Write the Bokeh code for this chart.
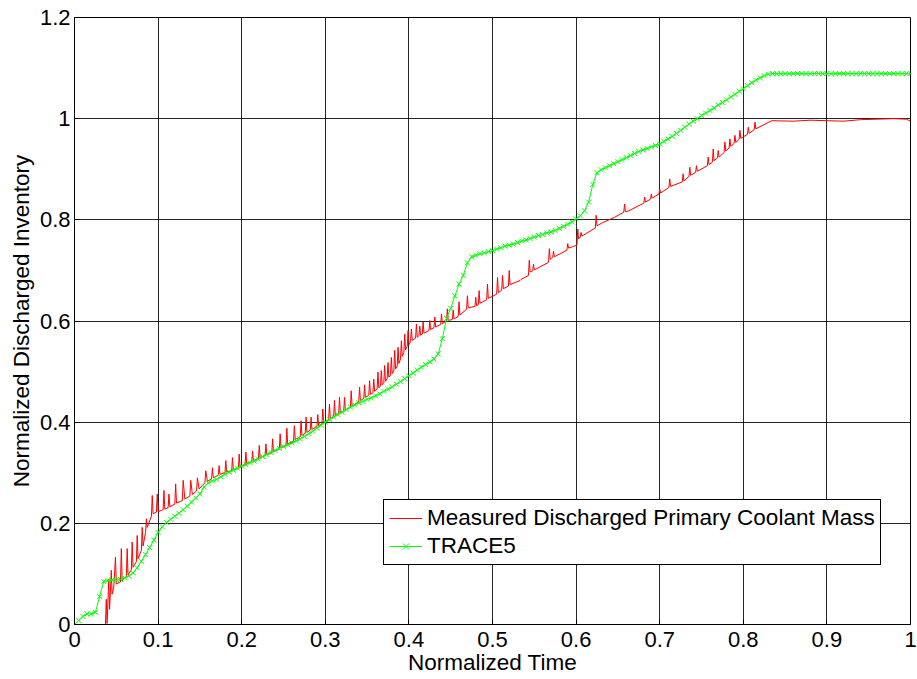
from bokeh.plotting import figure
from bokeh.models import Range1d, Legend, LegendItem, FixedTicker, CustomJSTickFormatter
from bokeh.embed import file_html
from bokeh.resources import INLINE

# ---------------- data ----------------
x_ticks = [0, 0.1, 0.2, 0.3, 0.4, 0.5, 0.6, 0.7, 0.8, 0.9, 1]
y_ticks = [0, 0.2, 0.4, 0.6, 0.8, 1, 1.2]

series_names = ["Measured Discharged Primary Coolant Mass", "TRACE5"]

red_t = [
    0.035, 0.037, 0.038, 0.039, 0.041, 0.042, 0.044, 0.045, 0.047, 0.049, 0.050,
    0.055, 0.056, 0.057, 0.062, 0.063, 0.064, 0.068, 0.069, 0.070, 0.074, 0.075, 0.076,
    0.080, 0.081, 0.082, 0.085, 0.086, 0.087, 0.092, 0.093, 0.094, 0.098, 0.099, 0.100,
    0.106, 0.107, 0.108, 0.112, 0.113, 0.114, 0.120, 0.121, 0.122, 0.129, 0.130, 0.132,
    0.138, 0.139, 0.141, 0.146, 0.147, 0.149, 0.156, 0.157, 0.159, 0.164, 0.165, 0.166,
    0.172, 0.173, 0.174, 0.180, 0.181, 0.182, 0.188, 0.189, 0.190, 0.196, 0.197, 0.198,
    0.204, 0.205, 0.206, 0.212, 0.213, 0.214, 0.220, 0.221, 0.222, 0.228, 0.229, 0.230,
    0.236, 0.237, 0.238, 0.245, 0.246, 0.247, 0.253, 0.254, 0.255, 0.262, 0.263, 0.264,
    0.270, 0.271, 0.272, 0.276, 0.277, 0.278, 0.282, 0.283, 0.284, 0.290, 0.291, 0.292,
    0.296, 0.297, 0.298, 0.304, 0.305, 0.306, 0.310, 0.311, 0.312, 0.316, 0.317, 0.318,
    0.322, 0.323, 0.324, 0.330, 0.331, 0.332, 0.340, 0.341, 0.342, 0.346, 0.347, 0.348,
    0.352, 0.353, 0.354, 0.357, 0.358, 0.359, 0.362, 0.363, 0.364, 0.366, 0.367, 0.368,
    0.370, 0.371, 0.372, 0.374, 0.375, 0.376, 0.378, 0.379, 0.380, 0.382, 0.383, 0.384,
    0.386, 0.387, 0.388, 0.390, 0.391, 0.392, 0.394, 0.395, 0.396, 0.398, 0.399, 0.400,
    0.402, 0.403, 0.404, 0.408, 0.409, 0.410, 0.412, 0.413, 0.414, 0.416, 0.417, 0.418,
    0.424, 0.425, 0.426, 0.430, 0.431, 0.432, 0.438, 0.439, 0.440, 0.445, 0.446, 0.447,
    0.452, 0.453, 0.454, 0.459, 0.460, 0.461, 0.469, 0.470, 0.471, 0.479, 0.480, 0.481,
    0.483, 0.484, 0.485, 0.493, 0.494, 0.495, 0.505, 0.506, 0.507, 0.511, 0.512, 0.513,
    0.519, 0.520, 0.521, 0.533, 0.534, 0.543, 0.544, 0.545, 0.548, 0.549, 0.550,
    0.567, 0.568, 0.569, 0.572, 0.573, 0.574, 0.589, 0.590, 0.591, 0.596, 0.601, 0.602,
    0.603, 0.605, 0.606, 0.607, 0.623, 0.624, 0.625, 0.630, 0.646, 0.657, 0.658, 0.659,
    0.662, 0.681, 0.682, 0.683, 0.689, 0.690, 0.691, 0.699, 0.700, 0.701, 0.711, 0.712,
    0.713, 0.727, 0.728, 0.729, 0.735, 0.736, 0.737, 0.743, 0.744, 0.745, 0.757, 0.758,
    0.759, 0.763, 0.764, 0.765, 0.769, 0.770, 0.771, 0.777, 0.778, 0.779, 0.783, 0.784,
    0.785, 0.789, 0.790, 0.791, 0.795, 0.796, 0.797, 0.805, 0.806, 0.807, 0.813, 0.814,
    0.815, 0.834, 0.860, 0.880, 0.900, 0.920, 0.940, 0.960, 0.980, 0.995, 1.000,
]
red_v = [
    0.000, 0.000, 0.050, 0.002, 0.090, 0.030, 0.107, 0.060, 0.074, 0.133, 0.080,
    0.084, 0.150, 0.087, 0.094, 0.150, 0.098, 0.108, 0.163, 0.113, 0.124, 0.176, 0.130,
    0.147, 0.192, 0.155, 0.182, 0.209, 0.192, 0.214, 0.255, 0.219, 0.222, 0.258, 0.223,
    0.227, 0.265, 0.228, 0.231, 0.258, 0.233, 0.238, 0.278, 0.240, 0.245, 0.285, 0.248,
    0.254, 0.285, 0.257, 0.264, 0.290, 0.268, 0.280, 0.304, 0.283, 0.288, 0.310, 0.290,
    0.295, 0.314, 0.297, 0.300, 0.324, 0.302, 0.304, 0.330, 0.306, 0.309, 0.337, 0.311,
    0.316, 0.341, 0.318, 0.322, 0.343, 0.324, 0.328, 0.354, 0.330, 0.334, 0.357, 0.336,
    0.339, 0.367, 0.342, 0.347, 0.377, 0.349, 0.354, 0.388, 0.357, 0.363, 0.393, 0.366,
    0.371, 0.403, 0.374, 0.378, 0.410, 0.380, 0.384, 0.410, 0.386, 0.391, 0.415, 0.393,
    0.397, 0.426, 0.399, 0.405, 0.436, 0.407, 0.411, 0.443, 0.413, 0.417, 0.449, 0.419,
    0.422, 0.449, 0.424, 0.429, 0.462, 0.432, 0.440, 0.469, 0.443, 0.447, 0.474, 0.449,
    0.453, 0.482, 0.455, 0.458, 0.485, 0.461, 0.466, 0.499, 0.468, 0.471, 0.502, 0.474,
    0.478, 0.512, 0.481, 0.486, 0.518, 0.489, 0.493, 0.528, 0.496, 0.501, 0.542, 0.505,
    0.511, 0.548, 0.516, 0.525, 0.561, 0.530, 0.538, 0.574, 0.543, 0.550, 0.581, 0.553,
    0.560, 0.584, 0.562, 0.566, 0.594, 0.568, 0.571, 0.590, 0.572, 0.574, 0.598, 0.576,
    0.581, 0.601, 0.583, 0.587, 0.608, 0.588, 0.593, 0.614, 0.595, 0.600, 0.624, 0.601,
    0.603, 0.622, 0.604, 0.609, 0.638, 0.612, 0.623, 0.650, 0.626, 0.629, 0.647, 0.630,
    0.632, 0.660, 0.635, 0.642, 0.673, 0.645, 0.653, 0.686, 0.656, 0.661, 0.690, 0.664,
    0.669, 0.700, 0.672, 0.680, 0.682, 0.690, 0.720, 0.697, 0.699, 0.712, 0.701,
    0.716, 0.743, 0.722, 0.726, 0.738, 0.727, 0.740, 0.753, 0.744, 0.747, 0.750, 0.782,
    0.762, 0.766, 0.775, 0.768, 0.784, 0.809, 0.788, 0.793, 0.805, 0.815, 0.831, 0.816,
    0.817, 0.833, 0.845, 0.835, 0.841, 0.851, 0.843, 0.851, 0.861, 0.853, 0.864, 0.881,
    0.866, 0.875, 0.891, 0.877, 0.886, 0.904, 0.888, 0.894, 0.907, 0.896, 0.907, 0.924,
    0.909, 0.914, 0.940, 0.917, 0.922, 0.937, 0.924, 0.933, 0.954, 0.936, 0.942, 0.960,
    0.945, 0.951, 0.967, 0.953, 0.959, 0.977, 0.961, 0.969, 0.983, 0.971, 0.978, 0.993,
    0.980, 0.996, 0.995, 0.997, 0.996, 0.995, 0.998, 0.999, 1.000, 0.999, 0.995,
]

green_t = [
    0.000, 0.005, 0.010, 0.015, 0.020, 0.025, 0.030, 0.035, 0.040, 0.045,
    0.050, 0.055, 0.060, 0.065, 0.070, 0.075, 0.080, 0.085, 0.090, 0.095,
    0.100, 0.105, 0.110, 0.115, 0.120, 0.125, 0.130, 0.135, 0.140, 0.145,
    0.150, 0.155, 0.160, 0.165, 0.170, 0.175, 0.180, 0.185, 0.190, 0.195,
    0.200, 0.205, 0.210, 0.215, 0.220, 0.225, 0.230, 0.235, 0.240, 0.245,
    0.250, 0.255, 0.260, 0.265, 0.270, 0.275, 0.280, 0.285, 0.290, 0.295,
    0.300, 0.305, 0.310, 0.315, 0.320, 0.325, 0.330, 0.335, 0.340, 0.345,
    0.350, 0.355, 0.360, 0.365, 0.370, 0.375, 0.380, 0.385, 0.390, 0.395,
    0.400, 0.405, 0.410, 0.415, 0.420, 0.425, 0.430, 0.435, 0.440, 0.445,
    0.450, 0.455, 0.460, 0.465, 0.470, 0.475, 0.480, 0.485, 0.490, 0.495,
    0.500, 0.505, 0.510, 0.515, 0.520, 0.525, 0.530, 0.535, 0.540, 0.545,
    0.550, 0.555, 0.560, 0.565, 0.570, 0.575, 0.580, 0.585, 0.590, 0.595,
    0.600, 0.605, 0.610, 0.615, 0.620, 0.625, 0.630, 0.635, 0.640, 0.645,
    0.650, 0.655, 0.660, 0.665, 0.670, 0.675, 0.680, 0.685, 0.690, 0.695,
    0.700, 0.705, 0.710, 0.715, 0.720, 0.725, 0.730, 0.735, 0.740, 0.745,
    0.750, 0.755, 0.760, 0.765, 0.770, 0.775, 0.780, 0.785, 0.790, 0.795,
    0.800, 0.805, 0.810, 0.815, 0.820, 0.825, 0.830, 0.835, 0.840, 0.845,
    0.850, 0.855, 0.860, 0.865, 0.870, 0.875, 0.880, 0.885, 0.890, 0.895,
    0.900, 0.905, 0.910, 0.915, 0.920, 0.925, 0.930, 0.935, 0.940, 0.945,
    0.950, 0.955, 0.960, 0.965, 0.970, 0.975, 0.980, 0.985, 0.990, 0.995,
    1.000,
]
green_v = [
    0.000, 0.008, 0.016, 0.021, 0.021, 0.024, 0.055, 0.085, 0.087, 0.088,
    0.088, 0.089, 0.092, 0.096, 0.102, 0.112, 0.125, 0.138, 0.152, 0.167,
    0.182, 0.193, 0.202, 0.208, 0.214, 0.220, 0.227, 0.234, 0.242, 0.250,
    0.258, 0.272, 0.280, 0.284, 0.287, 0.292, 0.297, 0.301, 0.305, 0.309,
    0.313, 0.316, 0.320, 0.323, 0.327, 0.332, 0.336, 0.340, 0.344, 0.348,
    0.352, 0.355, 0.359, 0.363, 0.367, 0.372, 0.377, 0.382, 0.388, 0.394,
    0.400, 0.405, 0.410, 0.415, 0.420, 0.425, 0.430, 0.434, 0.438, 0.441,
    0.445, 0.448, 0.452, 0.456, 0.461, 0.465, 0.470, 0.475, 0.480, 0.486,
    0.492, 0.497, 0.503, 0.509, 0.514, 0.519, 0.525, 0.535, 0.565, 0.605,
    0.625, 0.650, 0.673, 0.690, 0.715, 0.727, 0.730, 0.733, 0.735, 0.737,
    0.739, 0.742, 0.745, 0.748, 0.750, 0.752, 0.755, 0.758, 0.760, 0.763,
    0.766, 0.769, 0.771, 0.774, 0.776, 0.779, 0.783, 0.787, 0.791, 0.796,
    0.802, 0.808, 0.818, 0.835, 0.870, 0.893, 0.899, 0.903, 0.907, 0.911,
    0.915, 0.919, 0.923, 0.927, 0.931, 0.935, 0.938, 0.941, 0.944, 0.947,
    0.950, 0.955, 0.960, 0.965, 0.971, 0.977, 0.983, 0.989, 0.995, 1.000,
    1.006, 1.011, 1.016, 1.021, 1.027, 1.032, 1.037, 1.043, 1.048, 1.054,
    1.059, 1.065, 1.071, 1.076, 1.081, 1.085, 1.088, 1.089, 1.089, 1.089,
    1.089, 1.089, 1.089, 1.089, 1.089, 1.089, 1.089, 1.089, 1.089, 1.089,
    1.089, 1.089, 1.089, 1.089, 1.089, 1.089, 1.089, 1.089, 1.089, 1.089,
    1.089, 1.089, 1.089, 1.089, 1.089, 1.089, 1.089, 1.089, 1.089, 1.089,
    1.089,
]

x_label = "Normalized Time"
y_label = "Normalized Discharged Inventory"

# ---------------- figure ----------------
FONT = "Liberation Sans"

p = figure(width=917, height=679, output_backend="svg", toolbar_location=None,
           x_range=Range1d(0, 1), y_range=Range1d(0, 1.2),
           min_border_left=74, min_border_right=7, min_border_top=17,
           min_border_bottom=55)
p.background_fill_color = "white"
p.border_fill_color = "white"
p.outline_line_color = "black"
p.outline_line_width = 1
p.outline_line_alpha = 1

for ax, ticks, lab in ((p.xaxis[0], x_ticks, x_label), (p.yaxis[0], y_ticks, y_label)):
    ax.ticker = FixedTicker(ticks=ticks)
    ax.formatter = CustomJSTickFormatter(code="return String(tick);")
    ax.axis_label = lab
    ax.axis_label_text_font = FONT
    ax.axis_label_text_font_style = "normal"
    ax.axis_label_text_font_size = "22.5px"
    ax.axis_label_text_color = "black"
    ax.major_label_text_font = FONT
    ax.major_label_text_font_size = "22px"
    ax.major_label_text_color = "black"
    ax.major_tick_in = 5
    ax.major_tick_out = 0
    ax.minor_tick_in = 0
    ax.minor_tick_out = 0
    ax.axis_line_color = "black"
    ax.major_tick_line_color = "black"

p.xaxis.major_label_standoff = 7
p.xaxis.axis_label_standoff = 0
p.yaxis.major_label_standoff = 4
p.yaxis.axis_label_standoff = 3

for g in (p.xgrid[0], p.ygrid[0]):
    g.grid_line_color = "black"
    g.grid_line_alpha = 0.85
    g.grid_line_width = 1

r_red = p.line(red_t, red_v, line_color="#ff0000", line_width=1)
r_green_line = p.line(green_t, green_v, line_color="#00ff00", line_width=1)
r_green_pts = p.scatter(green_t, green_v, marker="x", size=7, line_color="#00ff00",
                        line_width=1)

legend = Legend(items=[LegendItem(label=series_names[0], renderers=[r_red]),
                       LegendItem(label=series_names[1], renderers=[r_green_line, r_green_pts])],
                location=(309, 59))
legend.label_text_font = FONT
legend.label_text_font_size = "22.5px"
legend.label_text_color = "black"
legend.border_line_color = "black"
legend.border_line_width = 1
legend.border_line_alpha = 1
legend.background_fill_color = "white"
legend.background_fill_alpha = 1
legend.glyph_width = 33
legend.glyph_height = 22
legend.label_height = 22
legend.label_standoff = 5
legend.spacing = 2
legend.padding = 5
legend.margin = 0
p.add_layout(legend, "center")

open("out.html", "w").write(file_html(p, INLINE))
